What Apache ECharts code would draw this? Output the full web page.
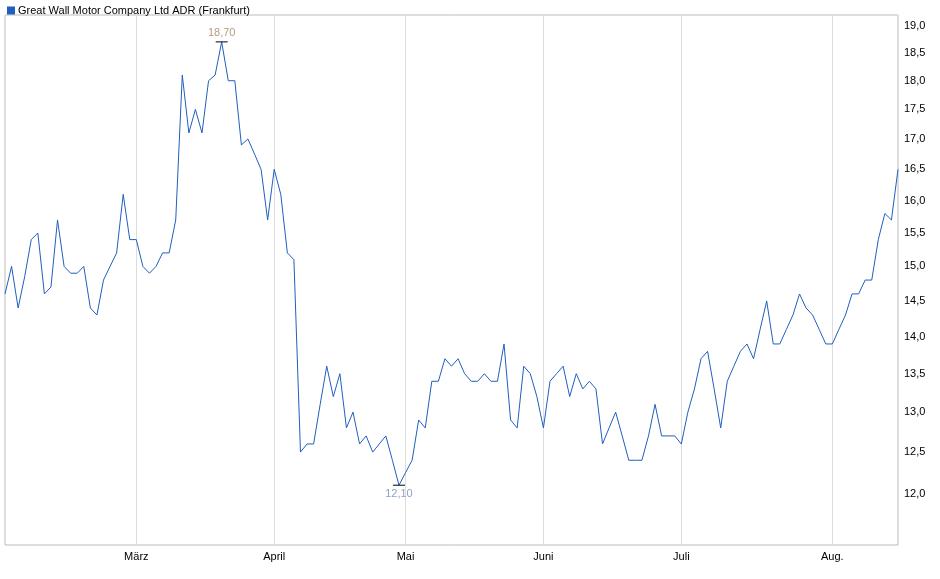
<!DOCTYPE html>
<html><head><meta charset="utf-8">
<script src="https://cdn.jsdelivr.net/npm/echarts@6/dist/echarts.min.js"></script>
<style>html,body{margin:0;padding:0;background:#fff}#c{width:940px;height:579px}</style>
</head><body><div id="c"></div>
<script>
const prices = [14.6,15.0,14.4,14.85,15.4,15.5,14.6,14.7,15.7,15.0,14.9,14.9,15.0,14.4,14.3,14.8,15.0,15.2,16.1,15.4,15.4,15.0,14.9,15.0,15.2,15.2,15.7,18.1,17.1,17.5,17.1,18.0,18.1,18.7,18.0,18.0,16.9,17.0,16.75,16.5,15.7,16.5,16.1,15.2,15.1,
12.5,12.6,12.6,13.1,13.6,13.2,13.5,12.8,13.0,12.6,12.7,12.5,12.6,12.7,12.4,12.1,12.25,12.4,12.9,12.8,13.4,13.4,13.7,13.6,13.7,13.5,13.4,13.4,13.5,13.4,13.4,13.9,12.9,12.8,13.6,13.5,13.2,12.8,13.4,13.5,13.6,
13.2,13.5,13.3,13.4,13.3,12.6,12.8,13.0,12.7,12.4,12.4,12.4,12.7,13.1,12.7,12.7,12.7,12.6,13.0,13.3,13.7,13.8,13.3,12.8,13.4,13.6,13.8,13.9,13.7,14.1,14.5,13.9,13.9,14.1,14.3,14.6,14.4,14.3,14.1,13.9,13.9,14.1,14.3,14.6,14.6,14.8,14.8,15.4,15.8,15.7,16.5];
const monthIdx = [20,41,61,82,103,126];
const monthLabels = ['März','April','Mai','Juni','Juli','Aug.'];
const yTicks = [12,12.5,13,13.5,14,14.5,15,15.5,16,16.5,17,17.5,18,18.5,19];
const title = 'Great Wall Motor Company Ltd ADR (Frankfurt)';

const cats = prices.map((_, i) => String(i));
const isMonth = i => monthIdx.indexOf(i) >= 0;
const fmt = v => v.toFixed(1).replace('.', ',');
let maxI = 0, minI = 0;
prices.forEach((v, i) => { if (v > prices[maxI]) maxI = i; if (v < prices[minI]) minI = i; });

const chart = echarts.init(document.getElementById('c'));
chart.setOption({
  animation: false,
  textStyle: {fontFamily: 'Arial, Liberation Sans, sans-serif'},
  grid: {left: 5, right: 42, top: 15, bottom: 34, show: true, borderColor: '#bbb', borderWidth: 1},
  legend: {left: 2, top: 0, itemWidth: 8, itemHeight: 8, icon: 'rect', itemGap: 4,
    textStyle: {fontSize: 11, color: '#000', padding: [0,0,0,-2]}, data: [title]},
  xAxis: {type: 'category', data: cats, boundaryGap: false,
    axisLine: {show: false}, axisTick: {show: false},
    axisLabel: {interval: (i) => isMonth(i), formatter: (v, i) => { const k = monthIdx.indexOf(+v); return k >= 0 ? monthLabels[k] : ''; },
      fontSize: 11, color: '#000', margin: 6},
    splitLine: {show: true, interval: (i) => isMonth(i), lineStyle: {color: '#ddd'}}},
  yAxis: {type: 'log', logBase: Math.E, position: 'right', min: 11.41, max: 19.2,
    axisLine: {show: false}, axisTick: {show: false},
    axisLabel: {customValues: yTicks, formatter: v => fmt(v), fontSize: 11, color: '#000', margin: 6},
    splitLine: {show: true, lineStyle: {color: '#ddd'}}},
  series: [{name: title, type: 'line', data: prices, symbol: 'none', color: '#1f5fbf',
    lineStyle: {width: 1, color: '#1f5fbf'},
    markPoint: {symbol: 'rect', symbolSize: [12, 1], itemStyle: {color: '#000'},
      data: [
        {coord: [maxI, prices[maxI]], label: {show: true, position: 'top', distance: 3, formatter: fmt(prices[maxI]).replace(/,(\d)$/, ',$10'), color: '#b59e7e', fontSize: 11}},
        {coord: [minI, prices[minI]], label: {show: true, position: 'bottom', distance: 3, formatter: fmt(prices[minI]) + '0', color: '#8fa0bf', fontSize: 11}}
      ]}}]
});
</script></body></html>
